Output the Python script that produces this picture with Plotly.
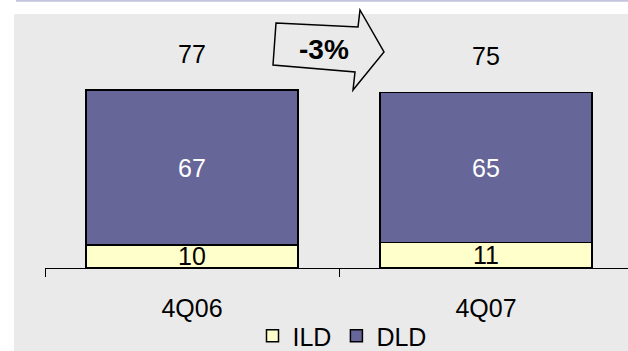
import plotly.graph_objects as go

# Data
quarters = ["4Q06", "4Q07"]
ild = [10, 11]
dld = [67, 65]
totals = [77, 75]
change_label = "-3%"

FONT = "Liberation Sans, Arial, sans-serif"
W, H = 628, 351
ML, MR, MT, MB = 45, 0, 14, 83
PW, PH = W - ML - MR, H - MT - MB


def px(x):
    """Pixel x -> paper x."""
    return (x - ML) / PW


def py(y):
    """Pixel y -> paper y."""
    return (H - MB - y) / PH


fig = go.Figure()
fig.add_trace(go.Bar(
    x=quarters, y=ild, name="ILD",
    marker=dict(color="#FFFFCC", line=dict(color="black", width=1.5)),
    text=[str(v) for v in ild], textposition="inside", insidetextanchor="middle",
    constraintext="none", textangle=0,
    textfont=dict(family=FONT, size=25, color="black"),
))
fig.add_trace(go.Bar(
    x=quarters, y=dld, name="DLD",
    marker=dict(color="#666699", line=dict(color="black", width=1.5)),
    text=[str(v) for v in dld], textposition="inside", insidetextanchor="middle",
    constraintext="none", textangle=0,
    textfont=dict(family=FONT, size=25, color="white"),
))

# Stack totals above each bar
for q, a, b, t in zip(quarters, ild, dld, totals):
    fig.add_annotation(x=q, y=a + b, text=str(t), showarrow=False,
                       yanchor="middle", yshift=36,
                       font=dict(family=FONT, size=25, color="black"))

# Background framing: white margins on top/left, lavender rule at top
shapes = [
    dict(type="rect", xref="paper", yref="paper", x0=px(0), x1=px(14),
         y0=py(H), y1=py(0), fillcolor="white", line=dict(width=0), layer="below"),
    dict(type="rect", xref="paper", yref="paper", x0=px(0), x1=px(W),
         y0=py(14), y1=py(0), fillcolor="white", line=dict(width=0), layer="below"),
    dict(type="line", xref="paper", yref="paper", x0=px(16), x1=px(W),
         y0=py(0.8), y1=py(0.8), line=dict(color="#C4C4DC", width=2)),
]

# Block arrow for the change between quarters
arrow_pts = [(276, 23), (358, 27), (360, 10), (384, 52),
             (353, 90), (355, 72), (273, 65)]
path = "M " + " L ".join(f"{px(x):.5f},{py(y):.5f}" for x, y in arrow_pts) + " Z"
shapes.append(dict(type="path", xref="paper", yref="paper", path=path,
                   line=dict(color="black", width=1.5), fillcolor="rgba(0,0,0,0)"))
fig.update_layout(shapes=shapes)

fig.add_annotation(xref="paper", yref="paper", x=px(324), y=py(50),
                   text=f"<b>{change_label}</b>", showarrow=False,
                   xanchor="center", yanchor="middle",
                   font=dict(family=FONT, size=28, color="black"))

fig.update_layout(
    width=W, height=H,
    margin=dict(l=ML, r=MR, t=MT, b=MB, pad=0, autoexpand=False),
    barmode="stack", bargap=0.28,
    paper_bgcolor="#EAEAEA", plot_bgcolor="rgba(0,0,0,0)",
    font=dict(family=FONT, size=25, color="black"),
    showlegend=True,
    legend=dict(orientation="h", x=px(342), xanchor="center",
                y=py(336), yanchor="middle", traceorder="normal",
                bgcolor="rgba(0,0,0,0)", font=dict(family=FONT, size=25),
                itemclick=False),
    xaxis=dict(type="category", range=[-0.5, -0.5 + PW / 294],
               showline=True, linecolor="black", linewidth=1,
               ticks="outside", tickson="boundaries", ticklen=8,
               tickcolor="black", ticklabelstandoff=18,
               showgrid=False, zeroline=False, automargin=False,
               tickfont=dict(family=FONT, size=25, color="black")),
    yaxis=dict(range=[0, PH / 2.31], visible=False, showgrid=False),
)

fig.write_html("out.html")
